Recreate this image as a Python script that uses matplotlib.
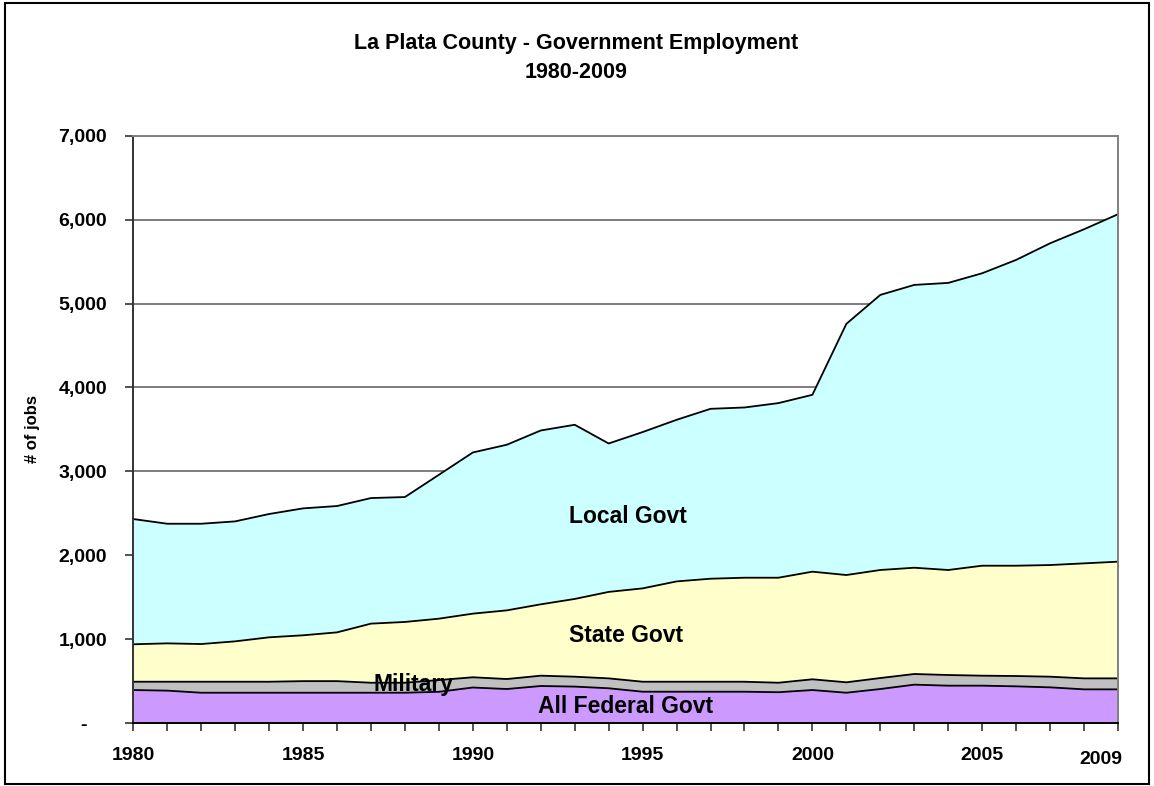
import matplotlib
matplotlib.use("Agg")
import matplotlib.pyplot as plt
from matplotlib.transforms import ScaledTranslation
from matplotlib.patches import Rectangle

plt.rcParams['font.family'] = ['Liberation Sans', 'DejaVu Sans']

years = list(range(1980, 2010))
federal = [396, 389, 364, 364, 364, 364, 364, 364, 364, 375, 426, 408, 444, 437, 417,
           376, 376, 376, 376, 370, 396, 364, 408, 460, 448, 448, 440, 428, 404, 404]
military = [99, 106, 131, 131, 131, 138, 138, 119, 119, 140, 122, 119, 123, 118, 118,
            119, 119, 119, 119, 113, 128, 124, 131, 127, 127, 119, 123, 127, 131, 131]
state = [446, 457, 449, 481, 529, 546, 581, 704, 724, 731, 758, 818, 850, 926, 1030,
         1112, 1195, 1227, 1239, 1251, 1282, 1278, 1287, 1266, 1251, 1310, 1314, 1330, 1370, 1390]
local = [1492, 1425, 1433, 1429, 1469, 1512, 1505, 1496, 1488, 1714, 1920, 1973, 2071, 2075, 1768,
         1862, 1925, 2024, 2028, 2080, 2107, 2992, 3277, 3369, 3420, 3484, 3643, 3833, 3980, 4139]

series_names = ["All Federal Govt", "Military", "State Govt", "Local Govt"]
series_colors = ["#CC99FF", "#C0C0C0", "#FFFFCC", "#CCFFFF"]
yticks = [0, 1000, 2000, 3000, 4000, 5000, 6000, 7000]
ytick_labels = ["-", "1,000", "2,000", "3,000", "4,000", "5,000", "6,000", "7,000"]
xlabel_years = [1980, 1985, 1990, 1995, 2000, 2005, 2009]

fig = plt.figure(figsize=(11.54, 7.86), dpi=100)
ax = fig.add_axes([0.1155, 0.0798, 0.8533, 0.7476])

# gridlines
for v in yticks[1:]:
    ax.axhline(v, color="#666666", lw=1.2, zorder=0)

stacks = [federal, military, state, local]
base = [0] * len(years)
for vals, col in zip(stacks, series_colors):
    top = [b + v for b, v in zip(base, vals)]
    ax.fill_between(years, base, top, facecolor=col, edgecolor="none", zorder=1)
    ax.plot(years, top, color="black", lw=1.3, zorder=2)
    base = top

ax.set_xlim(1980, 2009)
ax.set_ylim(0, 7000)
ax.set_yticks(yticks)
ax.set_yticklabels(ytick_labels)
ax.set_xticks(years)
ax.set_xticklabels([str(y) if y in xlabel_years else "" for y in years])

ax.tick_params(axis="both", direction="out", length=6, width=1.2, color="#333333",
               labelsize=14)
ax.tick_params(axis="x", pad=11)
ax.tick_params(axis="y", pad=13)
for lab in ax.get_xticklabels() + ax.get_yticklabels():
    lab.set_fontweight("bold")

# shift zero label "-" left, and 2009 label left and a bit down
ylabs = ax.get_yticklabels()
ylabs[0].set_transform(ylabs[0].get_transform() + ScaledTranslation(-0.2, 0, fig.dpi_scale_trans))
xlabs = ax.get_xticklabels()
xlabs[-1].set_transform(xlabs[-1].get_transform() + ScaledTranslation(-0.17, -0.04, fig.dpi_scale_trans))

ax.spines["left"].set_color("#333333")
ax.spines["left"].set_linewidth(1.4)
ax.spines["bottom"].set_color("black")
ax.spines["bottom"].set_linewidth(1.4)
ax.spines["top"].set_color("#808080")
ax.spines["top"].set_linewidth(1.4)
ax.spines["right"].set_color("#808080")
ax.spines["right"].set_linewidth(1.4)
for s in ax.spines.values():
    s.set_zorder(3)

fig.text(33 / 1154, 1 - 429 / 786, "# of jobs", rotation=90, ha="center", va="center",
         fontsize=12, fontweight="bold")

# series labels
ax.text(1994.57, 2468, "Local Govt", ha="center", va="center", fontsize=16.5, fontweight="bold", zorder=4)
ax.text(1994.5, 1051, "State Govt", ha="center", va="center", fontsize=16.5, fontweight="bold", zorder=4)
ax.text(1988.24, 456, "Military", ha="center", va="center", fontsize=16.5, fontweight="bold", zorder=4)
ax.text(1994.5, 198, "All Federal Govt", ha="center", va="center", fontsize=16.5, fontweight="bold", zorder=4)

fig.text(0.4995, 1 - 44 / 786, "La Plata County - Government Employment", ha="center", va="center",
         fontsize=15.5, fontweight="bold")
fig.text(0.4995, 1 - 72 / 786, "1980-2009", ha="center", va="center", fontsize=15.5, fontweight="bold")

fig.patches.append(Rectangle((5 / 1154, 2 / 786), 1144 / 1154, 781 / 786, transform=fig.transFigure,
                             fill=False, edgecolor="black", lw=1.5))

fig.savefig("out.png", dpi=100)
